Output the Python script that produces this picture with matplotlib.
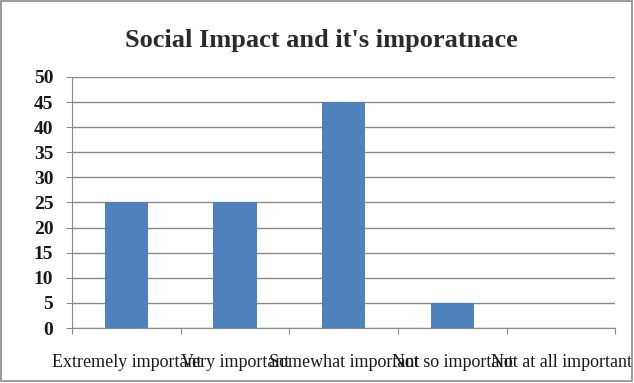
import numpy as np
import matplotlib.pyplot as plt
from matplotlib.patches import Rectangle

# 数据
categories = ['Extremely important', 'Very important', 'Somewhat important',
              'Not so important', 'Not at all important']
values = [25, 25, 45, 5, 0]
yticks = list(range(0, 55, 5))

fig = plt.figure(figsize=(6.34, 3.83), dpi=100)
fig.patches.append(Rectangle((0.001, 0.004), 0.996, 0.993, transform=fig.transFigure,
                             fill=False, edgecolor='#8c8c8c', linewidth=1.2))

ax = fig.add_axes([0.1136, 0.1436, 0.857, 0.6554])
x = np.arange(len(categories))
ax.bar(x, values, width=0.4, color='#4f81bd', zorder=3)

ax.set_xlim(-0.5, len(categories) - 0.5)
ax.set_ylim(0, 50)
ax.set_yticks(yticks)
ax.set_yticklabels([str(v) for v in yticks], fontfamily='Liberation Serif',
                   fontweight='bold', fontsize=14, color='#1a1a1a')
ax.yaxis.grid(True, color='#8a8a8a', linewidth=1.0, zorder=0)
ax.tick_params(axis='y', length=4.5, color='#8a8a8a', pad=9)

# 类别边界刻度
ax.set_xticks(np.arange(len(categories) + 1) - 0.5)
ax.set_xticklabels([])
ax.tick_params(axis='x', length=4, color='#8a8a8a', direction='out')
for xi, name in zip(x, categories):
    ax.text(xi, -6.8, name, ha='center', va='center', fontfamily='Liberation Serif',
            fontsize=13, color='#1a1a1a', clip_on=False)

for side in ['top', 'right']:
    ax.spines[side].set_visible(False)
ax.spines['left'].set_color('#8a8a8a')
ax.spines['bottom'].set_color('#8a8a8a')

fig.text(0.507, 0.893, "Social Impact and it's imporatnace", ha='center', va='center',
         fontfamily='Liberation Serif', fontweight='bold', fontsize=19, color='#2b2b2b')

plt.savefig('out.png', dpi=100)
